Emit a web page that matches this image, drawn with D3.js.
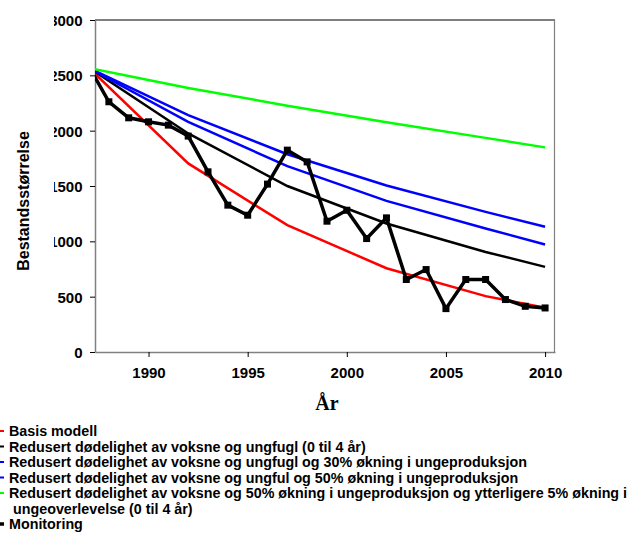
<!DOCTYPE html>
<html>
<head>
<meta charset="utf-8">
<script src="https://cdn.jsdelivr.net/npm/d3@7"></script>
<style>
  body { margin: 0; background: #fff; }
  svg { font-family: "Liberation Sans", Arial, sans-serif; }
  .tick text { font-size: 15px; font-weight: bold; fill: #000; }
</style>
</head>
<body>
<svg width="639" height="543"></svg>
<script>
// Model years (lines start before the axis and get clipped)
const modelYears = [1987, 1992, 1997, 2002, 2007, 2010];
const basis = [2565, 1704, 1146, 757, 505, 400];
const reducedMortality = [2567, 1975, 1500, 1161, 904, 769];
const plus30 = [2565, 2080, 1679, 1366, 1116, 971];
const plus50 = [2565, 2141, 1787, 1504, 1266, 1131];
const plus50Survival = [2565, 2385, 2226, 2077, 1935, 1849];

// Monitoring counts
const monitoringYears = [1987, 1988, 1989, 1990, 1991, 1992, 1993, 1994, 1995, 1996, 1997, 1998,
  1999, 2000, 2001, 2002, 2003, 2004, 2005, 2006, 2007, 2008, 2009, 2010];
const monitoring = [2577, 2261, 2116, 2080, 2050, 1951, 1628, 1327, 1236, 1517, 1824, 1718,
  1182, 1281, 1025, 1212, 655, 745, 392, 655, 655, 474, 413, 398];

const yearTicks = [1990, 1995, 2000, 2005, 2010];
const valueTicks = [0, 500, 1000, 1500, 2000, 2500, 3000];

const legendLabels = [
  "Basis modell",
  "Redusert dødelighet av voksne og ungfugl (0 til 4 år)",
  "Redusert dødelighet av voksne og ungfugl og 30% økning i ungeproduksjon",
  "Redusert dødelighet av voksne og ungful og 50% økning i ungeproduksjon",
  "Redusert dødelighet av voksne og 50% økning i ungeproduksjon og ytterligere 5% økning i",
  "Monitoring"
];

const series = [
  { values: basis, color: "#ff0000" },
  { values: reducedMortality, color: "#000000" },
  { values: plus30, color: "#0000ff" },
  { values: plus50, color: "#0000ff" },
  { values: plus50Survival, color: "#00ff00" }
];

const svg = d3.select("svg");
const plot = { left: 95, right: 555, top: 20, bottom: 352 };

const x = d3.scaleLinear().domain([1987.3, 2010.5]).range([plot.left, plot.right]);
const y = d3.scaleLinear().domain([0, 3000]).range([plot.bottom, plot.top]);

// Clip paths: plot area, and the cut-off left edge of the y labels
const defs = svg.append("defs");
defs.append("clipPath").attr("id", "plotClip")
  .append("rect")
  .attr("x", plot.left).attr("y", plot.top)
  .attr("width", plot.right - plot.left).attr("height", plot.bottom - plot.top);
defs.append("clipPath").attr("id", "yClip")
  .append("rect").attr("x", 54).attr("y", 0).attr("width", 100).attr("height", 543);

// Frame
svg.append("line")
  .attr("x1", plot.left).attr("x2", plot.right).attr("y1", plot.top).attr("y2", plot.top)
  .attr("stroke", "#000").attr("stroke-width", 1.2);
svg.append("line")
  .attr("x1", plot.right - 0.5).attr("x2", plot.right - 0.5).attr("y1", plot.top).attr("y2", plot.bottom)
  .attr("stroke", "#808080").attr("stroke-width", 1.2);

// Axes
const xAxis = svg.append("g")
  .attr("transform", `translate(0, ${plot.bottom})`)
  .call(d3.axisBottom(x).tickValues(yearTicks).tickFormat(d3.format("d")).tickSize(5).tickPadding(10).tickSizeOuter(0));

const yAxis = svg.append("g")
  .attr("clip-path", "url(#yClip)")
  .append("g")
  .attr("transform", `translate(${plot.left}, 0)`)
  .call(d3.axisLeft(y).tickValues(valueTicks).tickFormat(d3.format("d")).tickSize(5).tickPadding(7.5).tickSizeOuter(0));

[xAxis, yAxis].forEach(a => {
  a.select(".domain").attr("stroke", "#808080").attr("stroke-width", 1.5);
  a.selectAll(".tick line").attr("stroke", "#000");
});
xAxis.selectAll(".tick text").attr("dy", "0.76em");
yAxis.selectAll(".tick text").attr("dy", "0.36em");

// Axis titles
svg.append("text")
  .attr("transform", "translate(29, 201) rotate(-90)")
  .attr("text-anchor", "middle")
  .style("font-size", "16px").style("font-weight", "bold")
  .text("Bestandsstørrelse");

svg.append("text")
  .attr("x", 327).attr("y", 410)
  .attr("text-anchor", "middle")
  .style("font-family", "'Liberation Serif', 'Times New Roman', serif")
  .style("font-size", "20px").style("font-weight", "bold")
  .text("År");

// Model lines
const g = svg.append("g").attr("clip-path", "url(#plotClip)");
const line = d3.line().x(d => x(d[0])).y(d => y(d[1]));

series.forEach(s => {
  g.append("path")
    .datum(modelYears.map((yr, i) => [yr, s.values[i]]))
    .attr("fill", "none")
    .attr("stroke", s.color)
    .attr("stroke-width", 2.5)
    .attr("d", line);
});

// Monitoring line with square markers
const mon = monitoringYears.map((yr, i) => [yr, monitoring[i]]);
g.append("path")
  .datum(mon)
  .attr("fill", "none")
  .attr("stroke", "#000")
  .attr("stroke-width", 3.5)
  .attr("d", line);
g.selectAll(".marker")
  .data(mon)
  .enter()
  .append("rect")
  .attr("class", "marker")
  .attr("x", d => x(d[0]) - 3.5)
  .attr("y", d => y(d[1]) - 3.5)
  .attr("width", 7).attr("height", 7)
  .attr("fill", "#000");

// Legend (sample lines hang off the left edge)
const rowY = [431, 446.5, 462, 477.5, 493, 524];
const legendColors = series.map(s => s.color).concat(["#000"]);
const legend = svg.append("g");

legendLabels.forEach((label, i) => {
  const row = legend.append("g").attr("transform", `translate(0, ${rowY[i]})`);
  row.append("line")
    .attr("x1", -20).attr("x2", 4).attr("y1", 0).attr("y2", 0)
    .attr("stroke", legendColors[i])
    .attr("stroke-width", i === 5 ? 3.5 : 2);
  if (i === 5) {
    row.append("rect").attr("x", -12).attr("y", -3.5).attr("width", 7).attr("height", 7);
  }
  row.append("text")
    .attr("x", 9).attr("dy", "0.35em")
    .style("font-size", "14.3px").style("font-weight", "bold")
    .text(label);
});

// Wrapped second line of the green entry
legend.append("text")
  .attr("x", 13).attr("y", 508.5).attr("dy", "0.35em")
  .style("font-size", "14.3px").style("font-weight", "bold")
  .text("ungeoverlevelse (0 til 4 år)");
</script>
</body>
</html>
